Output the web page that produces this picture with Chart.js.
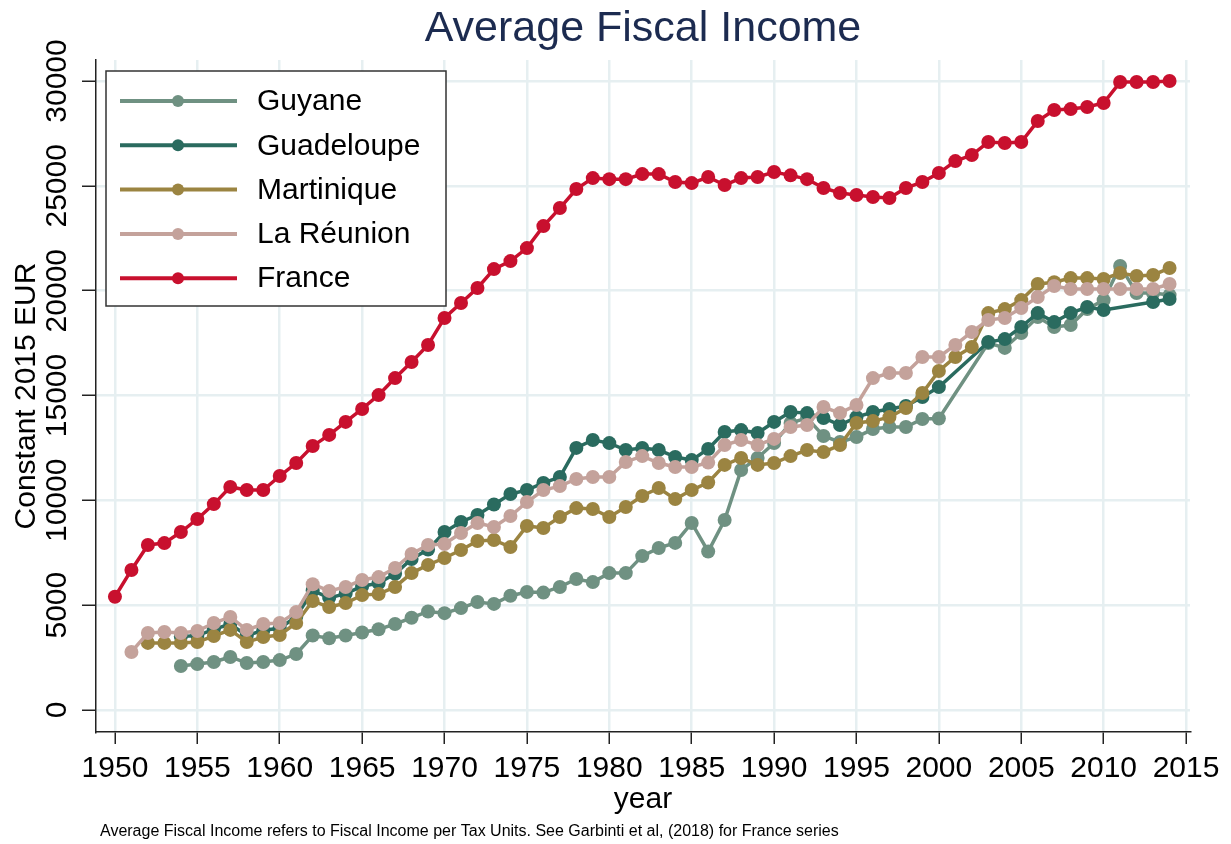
<!DOCTYPE html>
<html>
<head>
<meta charset="utf-8">
<script src="https://cdn.jsdelivr.net/npm/chart.js@4"></script>
<style>
  html, body { margin: 0; padding: 0; background: #fff; }
</style>
</head>
<body>
<canvas id="chart" width="1231" height="844"></canvas>
<script>
const FONT = "'Liberation Sans', Arial, sans-serif";

const years = [
  1950, 1951, 1952, 1953, 1954, 1955, 1956, 1957, 1958, 1959,
  1960, 1961, 1962, 1963, 1964, 1965, 1966, 1967, 1968, 1969,
  1970, 1971, 1972, 1973, 1974, 1975, 1976, 1977, 1978, 1979,
  1980, 1981, 1982, 1983, 1984, 1985, 1986, 1987, 1988, 1989,
  1990, 1991, 1992, 1993, 1994, 1995, 1996, 1997, 1998, 1999,
  2000, 2001, 2002, 2003, 2004, 2005, 2006, 2007, 2008, 2009,
  2010, 2011, 2012, 2013, 2014
];

const guyane = [
  null, null, null, null, 2100, 2190, 2290, 2530, 2240, 2290,
  2380, 2670, 3550, 3420, 3550, 3700, 3850, 4100, 4400, 4700,
  4620, 4860, 5150, 5060, 5450, 5630, 5600, 5870, 6250, 6100,
  6530, 6530, 7340, 7730, 7970, 8920, 7560, 9060, 11450, 12020,
  12730, 13690, 13930, 13070, 12780, 13020, 13400, 13500, 13500, 13880,
  13900, null, null, 17500, 17270, 17980, 18740, 18270, 18360, 19120,
  19550, 21180, 19890, 19890, 19790
];

const guadeloupe = [
  null, null, null, null, 3500, 3550, 3850, 4100, 3550, 3800,
  3900, 4450, 5700, 5350, 5550, 5900, 6050, 6500, 7200, 7650,
  8490, 8970, 9300, 9800, 10300, 10490, 10830, 11110, 12500, 12880,
  12730, 12400, 12500, 12400, 12070, 11920, 12450, 13260, 13350, 13210,
  13740, 14210, 14160, 13930, 13590, 13970, 14210, 14360, 14500, 14930,
  15400, null, null, 17550, 17690, 18270, 18930, 18500, 18930, 19220,
  19080, null, null, 19460, 19600
];

const martinique = [
  null, null, 3200, 3200, 3200, 3240, 3530, 3820, 3240, 3480,
  3580, 4150, 5200, 4910, 5100, 5480, 5530, 5870, 6530, 6920,
  7250, 7630, 8060, 8110, 7770, 8780, 8680, 9200, 9630, 9590,
  9200, 9680, 10210, 10590, 10060, 10490, 10850, 11690, 12020, 11690,
  11780, 12110, 12400, 12300, 12640, 13690, 13780, 13970, 14400, 15120,
  16170, 16840, 17310, 18930, 19120, 19550, 20320, 20400, 20600, 20600,
  20560, 20840, 20700, 20750, 21080
];

const reunion = [
  null, 2770, 3670, 3720, 3670, 3770, 4150, 4440, 3820, 4100,
  4150, 4670, 6000, 5680, 5870, 6200, 6340, 6770, 7440, 7870,
  7920, 8440, 8920, 8730, 9250, 9920, 10490, 10680, 11020, 11110,
  11110, 11830, 12110, 11780, 11590, 11590, 11800, 12640, 12880, 12640,
  12930, 13500, 13590, 14450, 14160, 14550, 15830, 16070, 16070, 16840,
  16840, 17410, 18030, 18600, 18700, 19170, 19700, 20220, 20080, 20080,
  20080, 20080, 20080, 20080, 20320
];

const france = [
  5400, 6680, 7870, 7960, 8490, 9110, 9820, 10640, 10490, 10490,
  11160, 11780, 12590, 13120, 13740, 14360, 15020, 15830, 16600, 17410,
  18700, 19410, 20130, 21030, 21410, 22030, 23080, 23940, 24850, 25370,
  25320, 25320, 25560, 25560, 25180, 25130, 25420, 25040, 25370, 25420,
  25660, 25500, 25320, 24900, 24660, 24560, 24470, 24420, 24900, 25180,
  25610, 26180, 26470, 27090, 27040, 27090, 28090, 28620, 28660, 28760,
  28950, 29950, 29950, 29950, 30000
];

const seriesNames = ['Guyane', 'Guadeloupe', 'Martinique', 'La Réunion', 'France'];
const seriesValues = [guyane, guadeloupe, martinique, reunion, france];
const seriesColors = ['#6f9182', '#2a6b5f', '#9b8441', '#c4a29b', '#c8102e'];

const xTicks = [1950, 1955, 1960, 1965, 1970, 1975, 1980, 1985, 1990, 1995, 2000, 2005, 2010, 2015];
const yTicks = [0, 5000, 10000, 15000, 20000, 25000, 30000];

const titleText = 'Average Fiscal Income';
const footText = 'Average Fiscal Income refers to Fiscal Income per Tax Units. See Garbinti et al, (2018) for France series';

const datasets = seriesNames.map((name, i) => ({
  label: name,
  data: years.map((yr, j) => ({ x: yr, y: seriesValues[i][j] })),
  borderColor: seriesColors[i],
  backgroundColor: seriesColors[i],
  pointBackgroundColor: seriesColors[i],
  pointBorderWidth: 0,
  pointRadius: 7,
  borderWidth: 3.5,
  spanGaps: true,
  order: seriesNames.length - 1 - i
}));

// title, footnote and the boxed legend inside the plot
const annotate = {
  id: 'annotate',
  afterDraw(chart) {
    const { ctx, chartArea } = chart;
    ctx.save();
    ctx.fillStyle = '#1c2b50';
    ctx.font = '43px ' + FONT;
    ctx.textAlign = 'center';
    ctx.textBaseline = 'middle';
    ctx.fillText(titleText, (chartArea.left + chartArea.right) / 2, 29);

    ctx.fillStyle = '#000';
    ctx.font = '16px ' + FONT;
    ctx.textAlign = 'left';
    ctx.fillText(footText, 100, 832);

    // legend box
    const bx = 106, by = 71, bw = 340, bh = 235;
    ctx.fillStyle = '#fff';
    ctx.fillRect(bx, by, bw, bh);
    ctx.strokeStyle = '#333';
    ctx.lineWidth = 1.5;
    ctx.strokeRect(bx, by, bw, bh);
    ctx.font = '30px ' + FONT;
    chart.data.datasets.forEach((ds, i) => {
      const cy = 101 + i * 44.3;
      ctx.strokeStyle = ds.borderColor;
      ctx.lineWidth = 4;
      ctx.beginPath();
      ctx.moveTo(120, cy);
      ctx.lineTo(237, cy);
      ctx.stroke();
      ctx.fillStyle = ds.borderColor;
      ctx.beginPath();
      ctx.arc(178, cy, 6, 0, Math.PI * 2);
      ctx.fill();
      ctx.fillStyle = '#000';
      ctx.fillText(ds.label, 257, cy + 1);
    });
    ctx.restore();
  }
};

new Chart(document.getElementById('chart'), {
  type: 'line',
  data: { datasets },
  plugins: [annotate],
  options: {
    responsive: false,
    animation: false,
    layout: { padding: { top: 60, right: 41, bottom: 0, left: 0 } },
    plugins: {
      legend: { display: false },
      title: { display: false },
      tooltip: { enabled: false }
    },
    scales: {
      x: {
        type: 'linear',
        min: 1948.85,
        max: 2015.24,
        afterBuildTicks: s => { s.ticks = xTicks.map(v => ({ value: v })); },
        afterFit: s => { s.height = 112; },
        grid: { color: '#e6eff1', lineWidth: 2.5, tickColor: '#222', tickWidth: 1.5, tickLength: 12 },
        border: { color: '#222', width: 1.5 },
        ticks: {
          color: '#000', font: { family: FONT, size: 30 }, padding: 7,
          maxRotation: 0, autoSkip: false, callback: v => String(v)
        },
        title: {
          display: true, text: 'year', color: '#000',
          font: { family: FONT, size: 30 }, padding: { top: 26, bottom: 26 }
        }
      },
      y: {
        min: -1049,
        max: 31002,
        afterBuildTicks: s => { s.ticks = yTicks.map(v => ({ value: v })); },
        afterFit: s => { s.width = 96; },
        grid: { color: '#e6eff1', lineWidth: 2.5, tickColor: '#222', tickWidth: 1.5, tickLength: 14 },
        border: { color: '#222', width: 1.5 },
        ticks: {
          color: '#000', font: { family: FONT, size: 30 }, padding: -17,
          minRotation: 90, maxRotation: 90, crossAlign: 'center',
          autoSkip: false, callback: v => String(v)
        },
        title: {
          display: true, text: 'Constant 2015 EUR', color: '#000',
          font: { family: FONT, size: 30 }, padding: { top: 9, bottom: 9 }
        }
      }
    }
  }
});
</script>
</body>
</html>
